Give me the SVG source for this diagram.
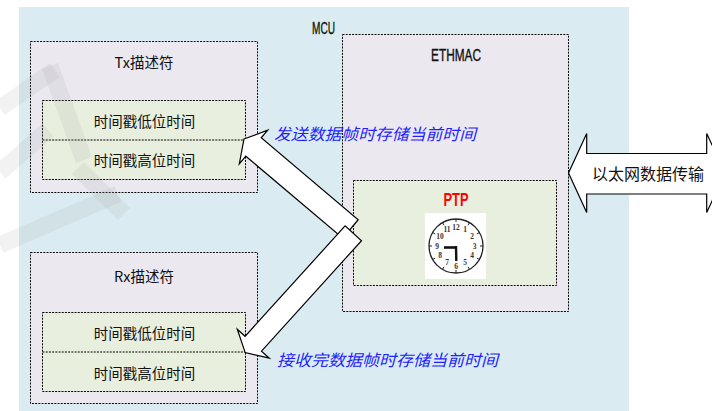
<svg xmlns="http://www.w3.org/2000/svg" width="712" height="411" viewBox="0 0 712 411">
  <style>
    .box { stroke: #000; stroke-width: 1; stroke-dasharray: 2 1.2; }
    .desc { fill: #ebe8f0; }
    .slot { fill: #e8efde; }
    .cn { font-family: "Noto Sans CJK SC", "Noto Sans", sans-serif; font-size: 14.5px; fill: #111; text-anchor: middle; dominant-baseline: central; }
    .lat { font-family: "Liberation Sans", sans-serif; fill: #111; stroke: #111; stroke-width: 0.35; text-anchor: middle; dominant-baseline: central; }
    .note { font-family: "Noto Sans CJK SC", sans-serif; font-size: 16px; fill: #1f1fff; font-style: italic; dominant-baseline: central; }
    .blk { fill: #fff; stroke: #000; stroke-width: 1.2; stroke-linejoin: miter; }
    .num { font-family: "Liberation Serif", serif; font-weight: bold; font-size: 7.5px; fill: #333; text-anchor: middle; dominant-baseline: central; }
    .wm { fill: none; stroke: #a0a0a0; stroke-opacity: 0.14; stroke-width: 17; }
  </style>

  <!-- MCU background -->
  <g id="mcu">
    <rect x="19" y="7" width="610" height="404" fill="#daecf2"/>
    <text class="lat" x="323.5" y="28.5" font-size="17" textLength="23" lengthAdjust="spacingAndGlyphs">MCU</text>
  </g>

  <!-- Tx descriptor -->
  <g id="tx-desc">
    <rect class="box desc" x="30.5" y="41.5" width="227" height="151"/>
    <text class="cn" x="144" y="61">Tx描述符</text>
    <rect class="box slot" x="42.5" y="100.5" width="203" height="79"/>
    <line class="box" x1="42.5" y1="140" x2="245.5" y2="140"/>
    <text class="cn" x="144.5" y="120">时间戳低位时间</text>
    <text class="cn" x="144.5" y="159.5">时间戳高位时间</text>
  </g>

  <!-- Rx descriptor -->
  <g id="rx-desc">
    <rect class="box desc" x="30.5" y="252.5" width="227" height="151"/>
    <text class="cn" x="144" y="275">Rx描述符</text>
    <rect class="box slot" x="42.5" y="312.5" width="203" height="79"/>
    <line class="box" x1="42.5" y1="352" x2="245.5" y2="352"/>
    <text class="cn" x="144.5" y="332.5">时间戳低位时间</text>
    <text class="cn" x="144.5" y="372">时间戳高位时间</text>
  </g>

  <!-- ETHMAC with PTP clock -->
  <g id="ethmac">
    <rect class="box desc" x="342.5" y="34.5" width="226" height="277"/>
    <text class="lat" x="456" y="55" font-size="17" textLength="50" lengthAdjust="spacingAndGlyphs">ETHMAC</text>
  </g>
  <g id="ptp">
    <rect class="box slot" x="353.5" y="180.5" width="203" height="105"/>
    <text class="lat" x="456" y="200" font-size="18" font-weight="bold" style="fill:#ff0000;stroke:none" textLength="25" lengthAdjust="spacingAndGlyphs">PTP</text>
    <rect x="425" y="213" width="61" height="66" fill="#fff"/>
    <circle cx="456" cy="246" r="27" fill="#fff" stroke="#222" stroke-width="1.3"/>
    <g stroke="#222" stroke-width="1">
      <line x1="456" y1="219" x2="456" y2="222"/>
      <line x1="483" y1="246" x2="480" y2="246"/>
      <line x1="456" y1="273" x2="456" y2="270"/>
      <line x1="429" y1="246" x2="432" y2="246"/>
      <line x1="469.5" y1="222.6" x2="468" y2="225.2"/>
      <line x1="479.4" y1="232.5" x2="476.8" y2="234"/>
      <line x1="479.4" y1="259.5" x2="476.8" y2="258"/>
      <line x1="469.5" y1="269.4" x2="468" y2="266.8"/>
      <line x1="442.5" y1="269.4" x2="444" y2="266.8"/>
      <line x1="432.6" y1="259.5" x2="435.2" y2="258"/>
      <line x1="432.6" y1="232.5" x2="435.2" y2="234"/>
      <line x1="442.5" y1="222.6" x2="444" y2="225.2"/>
    </g>
    <text class="num" x="465" y="229.5">1</text>
    <text class="num" x="472" y="236.5">2</text>
    <text class="num" x="474.5" y="246">3</text>
    <text class="num" x="472" y="255.5">4</text>
    <text class="num" x="465" y="262.5">5</text>
    <text class="num" x="456" y="266">6</text>
    <text class="num" x="447" y="262.5">7</text>
    <text class="num" x="440" y="255.5">8</text>
    <text class="num" x="437" y="246">9</text>
    <text class="num" x="440" y="236.5">10</text>
    <text class="num" x="447" y="229.5">11</text>
    <text class="num" x="456" y="227">12</text>
    <line x1="444" y1="247.5" x2="456" y2="247.5" stroke="#111" stroke-width="2.6"/>
    <line x1="456" y1="246" x2="456.3" y2="261" stroke="#111" stroke-width="2.4"/>
  </g>

  <!-- Ethernet link -->
  <g id="ethernet">
    <polygon class="blk" points="568.5,173 586.7,133.5 586.7,153.5 706.7,153.5 706.7,133.5 725,173 706.7,212.5 706.7,194 586.7,194 586.7,212.5"/>
    <text class="cn" x="648" y="173" style="font-size:16px">以太网数据传输</text>
  </g>

  <!-- Timestamp transfer arrows -->
  <g id="connectors">
    <polygon class="blk" points="244,139 267.7,130.2 261.2,137.8 358.2,219.7 342.8,238.1 245.8,156.2 239.3,163.8"/>
    <polygon class="blk" points="245.2,352.6 237.3,329.2 245.1,336.3 345.1,225.9 361.5,240.7 261.5,351.1 269.3,358.2"/>
    <text class="note" x="274" y="133" textLength="202" lengthAdjust="spacingAndGlyphs">发送数据帧时存储当前时间</text>
    <text class="note" x="277" y="359" textLength="221" lengthAdjust="spacingAndGlyphs">接收完数据帧时存储当前时间</text>
  </g>

  <!-- faint watermark strokes -->
  <g id="watermark">
    <path class="wm" d="M0,108 L55,70"/>
    <path class="wm" d="M50,66 L84,160"/>
    <path class="wm" d="M0,172 L48,130"/>
    <path class="wm" d="M0,245 L118,194"/>
    <path class="wm" d="M78,168 L124,214"/>
  </g>
</svg>
